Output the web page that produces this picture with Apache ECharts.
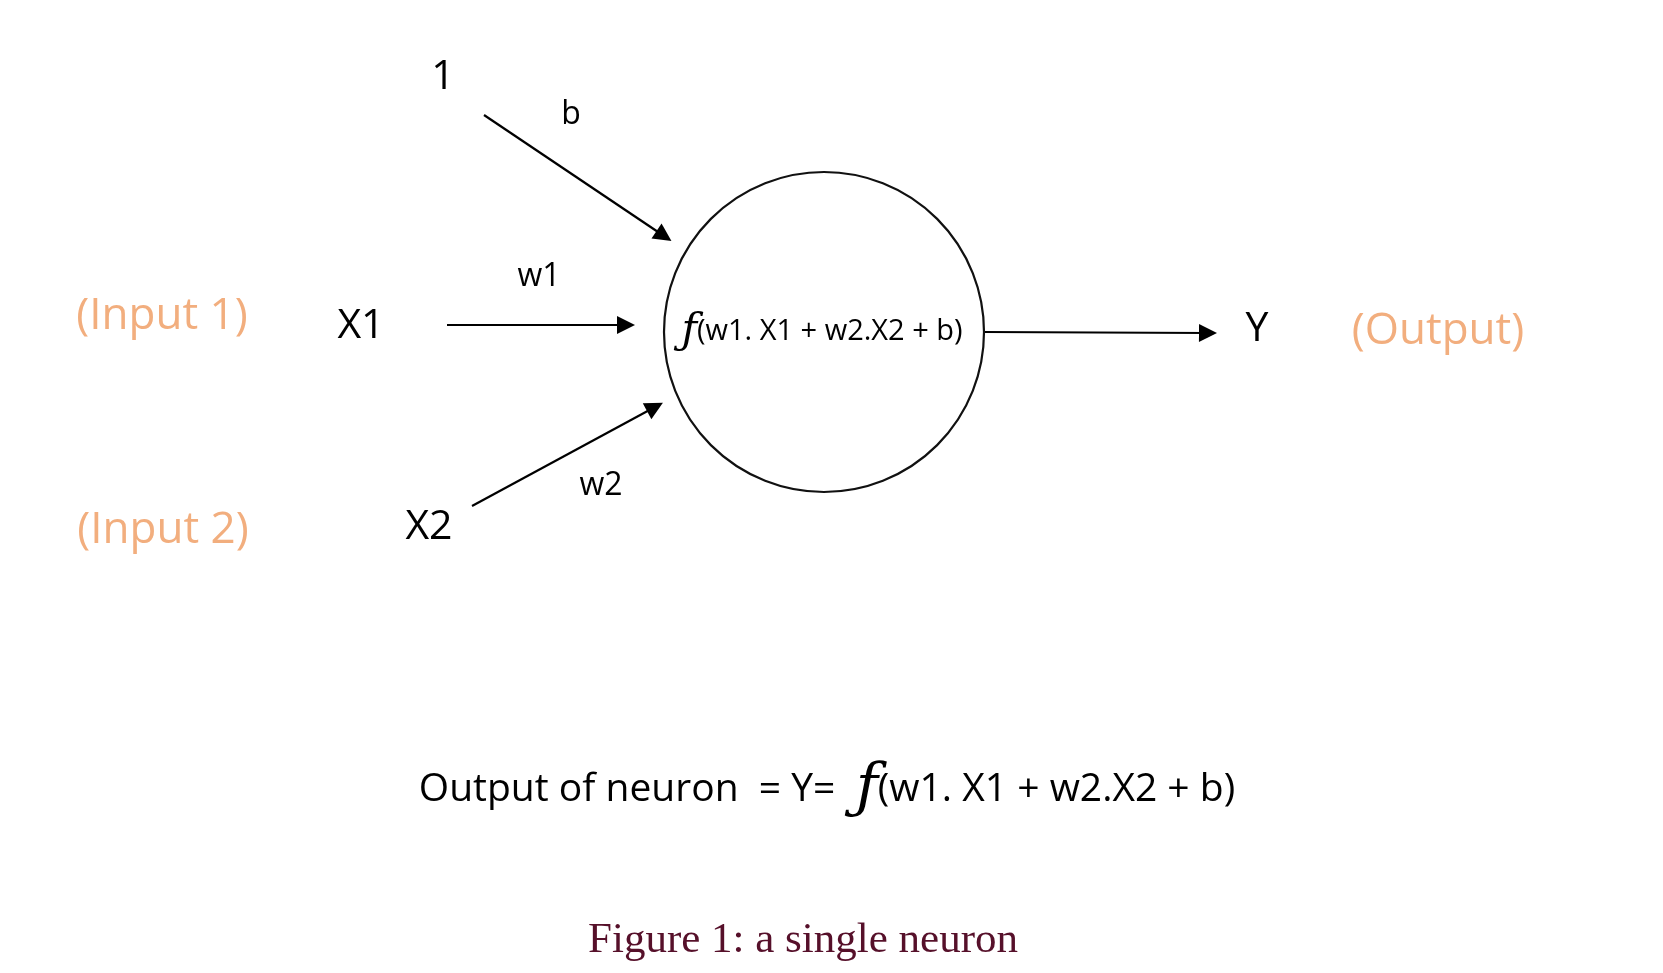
<!doctype html>
<html lang="en">
<head>
    <meta charset="utf-8">
    <title>a single neuron</title>
    <script src="https://cdn.jsdelivr.net/npm/echarts@6/dist/echarts.min.js"></script>
    <style>
        *{margin:0;padding:0}
        html,body{width:100%;height:100%;background:#fff}
        #main{width:100%;height:100%}
    </style>
</head>
<body>
<div id="main"></div>
<script type="text/javascript">
    // plain labels of the diagram (pixel-like diagram units, y grows downwards)
    var labelNames = ['1', 'b', 'w1', '(Input 1)', 'X1', 'Y', '(Output)', 'w2', '(Input 2)', 'X2'];
    var labelX = [443, 571, 539, 162, 361, 1257, 1438, 601, 163, 429];
    var labelY = [77, 115, 277, 316, 326, 329, 331, 486, 530, 527];
    var labelKind = ['big', 'small', 'small', 'note', 'big', 'big', 'note', 'small', 'note', 'big'];

    // arrows: bias, x1, x2, output
    var edgeFrom = [[484, 115], [447, 325], [472, 506], [985, 332]];
    var edgeTo = [[664, 236], [626, 325], [655, 407], [1208, 333]];

    var neuronCenter = [824, 332];
    var neuronFormula = '(w1. X1 + w2.X2 + b)';

    var equationPos = [827, 790];
    var equationText = 'Output of neuron  = Y=  ';
    var captionPos = [803, 941];
    var captionText = 'Figure 1: a single neuron';

    var kindStyle = {
        big: {fontSize: 41, color: '#000'},
        small: {fontSize: 32, color: '#000'},
        note: {fontSize: 44, color: '#F2AE7E'}
    };

    var myChart = echarts.init(document.getElementById('main'));

    var labelData = labelNames.map(function(name, i) {
        var st = kindStyle[labelKind[i]];
        return {
            name: name,
            value: [labelX[i], labelY[i]],
            label: {fontSize: st.fontSize, color: st.color}
        };
    });

    var option = {
        animation: false,
        grid: {left: 0, right: 0, top: 0, bottom: 0},
        xAxis: {type: 'value', min: 0, max: 1663, show: false},
        yAxis: {type: 'value', min: 0, max: 973, inverse: true, show: false},
        series: [
            {
                // the neuron
                type: 'scatter',
                symbol: 'circle',
                symbolSize: 320,
                z: 1,
                itemStyle: {color: 'rgba(0,0,0,0)', borderColor: '#111', borderWidth: 2.2, opacity: 1},
                label: {
                    show: true,
                    position: 'inside',
                    offset: [-2, 0],
                    textBorderWidth: 0,
                    formatter: '{f|ƒ}{t|' + neuronFormula + '}',
                    rich: {
                        f: {fontFamily: 'DejaVu Serif', fontStyle: 'italic', fontSize: 42, color: '#000', textBorderWidth: 0},
                        t: {fontFamily: 'Open Sans', fontSize: 29, color: '#000', textBorderWidth: 0}
                    }
                },
                data: [neuronCenter]
            },
            {
                type: 'lines',
                coordinateSystem: 'cartesian2d',
                symbol: ['none', 'triangle'],
                symbolSize: [15, 18],
                z: 2,
                lineStyle: {color: '#000', width: 2.2, opacity: 1, curveness: 0},
                data: edgeFrom.map(function(p, i) {
                    return {coords: [p, edgeTo[i]]};
                })
            },
            {
                type: 'scatter',
                symbolSize: 1,
                z: 3,
                itemStyle: {color: 'rgba(0,0,0,0)', opacity: 1},
                label: {
                    show: true,
                    position: 'inside',
                    fontFamily: 'Open Sans',
                    textBorderWidth: 0,
                    formatter: '{b}'
                },
                data: labelData
            },
            {
                type: 'scatter',
                symbolSize: 1,
                z: 3,
                itemStyle: {color: 'rgba(0,0,0,0)', opacity: 1},
                label: {
                    show: true,
                    position: 'inside',
                    textBorderWidth: 0,
                    formatter: function(p) {
                        if (p.dataIndex === 0) {
                            return '{t|' + equationText + '}{f|ƒ}{t|' + neuronFormula + '}';
                        }
                        return '{c|' + captionText + '}';
                    },
                    rich: {
                        t: {fontFamily: 'Open Sans', fontSize: 39, color: '#000', textBorderWidth: 0},
                        f: {fontFamily: 'DejaVu Serif', fontStyle: 'italic', fontSize: 60, color: '#000', textBorderWidth: 0},
                        c: {fontFamily: 'Liberation Serif', fontSize: 43, color: '#56102a', textBorderWidth: 0}
                    }
                },
                data: [equationPos, captionPos]
            }
        ]
    };
    myChart.setOption(option);
</script>
</body>
</html>
